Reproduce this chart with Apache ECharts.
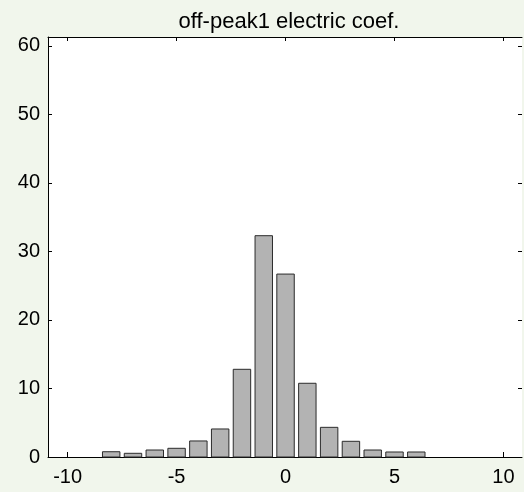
<!DOCTYPE html>
<html lang="en">

<head>
    <meta charset="UTF-8">
    <title>off-peak1 electric coef.</title>
    <style>
        html, body {
            margin: 0;
            padding: 0;
            background: #f1f6ec;
        }

        .main {
            width: 524px;
            height: 492px;
        }
    </style>
    <script src="https://cdn.jsdelivr.net/npm/echarts@6/dist/echarts.min.js"></script>
</head>

<body>
    <div class="main"></div>
    <script>
        // bin centres and bar heights
        var binCenters = [-8, -7, -6, -5, -4, -3, -2, -1, 0, 1, 2, 3, 4, 5, 6];
        var binCounts = [0.77, 0.54, 1.02, 1.27, 2.34, 4.09, 12.8, 32.3, 26.7, 10.76, 4.33, 2.29, 1.02, 0.73, 0.73];
        var binWidth = 0.8;
        var xTicks = [-10, -5, 0, 5, 10];
        var yTicks = [0, 10, 20, 30, 40, 50, 60];

        var myChart = echarts.init(document.querySelector('.main'));

        var data = [];
        for (var i = 0; i < binCenters.length; i++) {
            data.push([binCenters[i], binCounts[i]]);
        }

        var font = 'Arial, "Liberation Sans", sans-serif';

        var option = {
            backgroundColor: '#f1f6ec',
            animation: false,
            title: {
                text: 'off-peak1 electric coef.',
                left: 284,
                textAlign: 'center',
                top: 6,
                textStyle: {
                    fontFamily: font,
                    fontSize: 22,
                    fontWeight: 'normal',
                    color: '#000'
                }
            },
            grid: {
                left: 48,
                right: 2,
                top: 37,
                bottom: 35,
                show: true,
                backgroundColor: '#fff',
                borderWidth: 0
            },
            xAxis: [{
                type: 'value',
                min: -10.9,
                max: 10.85,
                splitLine: { show: false },
                axisLine: { show: true, onZero: false, lineStyle: { color: '#000', width: 1 } },
                axisTick: {
                    show: true,
                    inside: true,
                    length: 5,
                    customValues: xTicks,
                    lineStyle: { color: '#000' }
                },
                axisLabel: {
                    customValues: xTicks,
                    margin: 10,
                    fontFamily: font,
                    fontSize: 20,
                    color: '#000'
                }
            }, {
                type: 'value',
                position: 'top',
                min: -10.9,
                max: 10.85,
                splitLine: { show: false },
                axisLine: { show: true, onZero: false, lineStyle: { color: '#000', width: 1 } },
                axisTick: {
                    show: true,
                    inside: true,
                    length: 4,
                    customValues: xTicks,
                    lineStyle: { color: '#000' }
                },
                axisLabel: { show: false }
            }],
            yAxis: [{
                type: 'value',
                min: 0,
                max: 61.3,
                splitLine: { show: false },
                axisLine: { show: true, onZero: false, lineStyle: { color: '#000', width: 1 } },
                axisTick: {
                    show: true,
                    inside: true,
                    length: 4,
                    customValues: yTicks,
                    lineStyle: { color: '#000' }
                },
                axisLabel: {
                    customValues: yTicks,
                    margin: 8,
                    fontFamily: font,
                    fontSize: 20,
                    color: '#000'
                }
            }, {
                type: 'value',
                position: 'right',
                min: 0,
                max: 61.3,
                splitLine: { show: false },
                axisLine: { show: false, onZero: false },
                axisTick: {
                    show: true,
                    inside: true,
                    length: 4,
                    customValues: yTicks,
                    lineStyle: { color: '#000' }
                },
                axisLabel: { show: false }
            }],
            series: [{
                type: 'custom',
                xAxisIndex: 0,
                yAxisIndex: 0,
                data: data,
                renderItem: function (params, api) {
                    var x = api.value(0);
                    var y = api.value(1);
                    var p0 = api.coord([x - binWidth / 2, y]);
                    var p1 = api.coord([x + binWidth / 2, 0]);
                    return {
                        type: 'rect',
                        shape: {
                            x: p0[0],
                            y: p0[1],
                            width: p1[0] - p0[0],
                            height: p1[1] - p0[1]
                        },
                        style: {
                            fill: '#b3b3b3',
                            stroke: '#2b2b2b',
                            lineWidth: 1
                        }
                    };
                }
            }]
        };

        myChart.setOption(option);
    </script>
</body>

</html>
